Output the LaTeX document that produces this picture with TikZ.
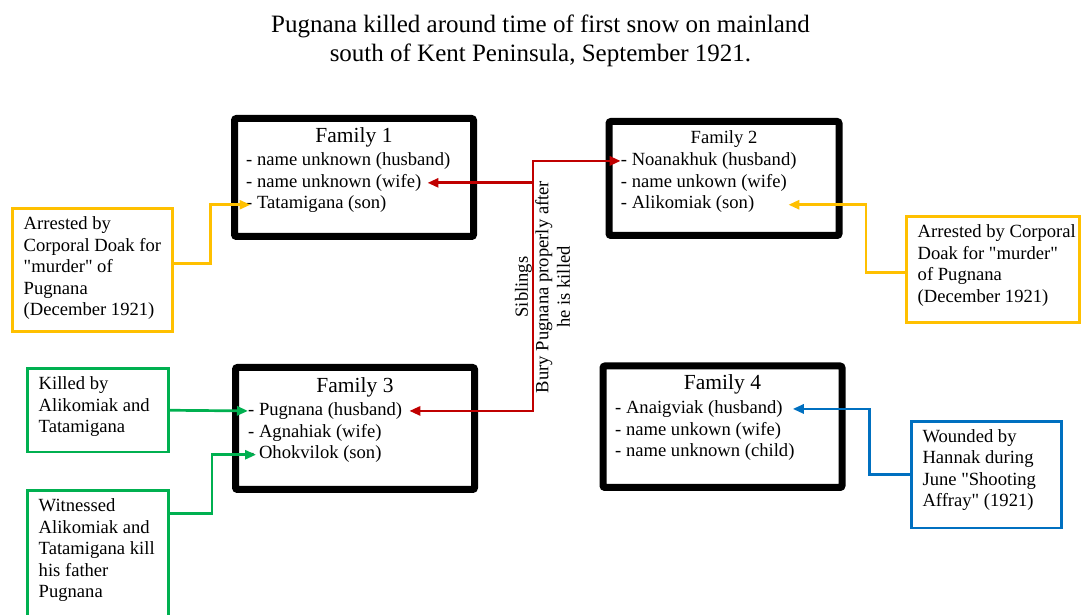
\documentclass[tikz,border=0pt]{standalone}
\usepackage{fontspec}
\setmainfont{Liberation Serif}
\usetikzlibrary{positioning,arrows.meta}

\definecolor{calorange}{HTML}{FFC000}
\definecolor{calgreen}{HTML}{00B050}
\definecolor{calblue}{HTML}{0070C0}
\definecolor{sibred}{HTML}{C00000}

\newcommand{\bodysize}{\fontsize{18.6}{21.5}\selectfont}
\newcommand{\famsize}{\fontsize{21.5}{25}\selectfont}
\newcommand{\picheadsize}{\fontsize{25}{29}\selectfont}
\newcommand{\dq}{\textquotedbl}

\begin{document}
\begin{tikzpicture}[x=1pt, y=1pt, >={Triangle[length=11pt,width=9pt]},
                famBox/.style={draw, line width=7pt, rounded corners=2pt, outer sep=0pt},
                famTitle/.style={inner sep=0pt, font=\famsize, text height=15pt, text depth=5pt},
                famLine/.style={inner sep=0pt, font=\bodysize, text height=13pt, text depth=4.5pt},
                nextLine/.style={below=4pt of #1.south west, anchor=north west},
                noteBox/.style={draw=#1, line width=2.7pt, outer sep=0pt},
                noteText/.style={inner sep=0pt, font=\bodysize, align=left, below right=8pt and 11pt of #1.north west},
                link/.style={->, line width=2.7pt, draw=#1}]
                \useasboundingbox (0,0) rectangle (1083,615);

                \node[font=\picheadsize, align=center] (title) at (540.5,574)
                    {Pugnana killed around time of first snow on mainland\\south of Kent Peninsula, September 1921.};

                % families
                \node[famBox, minimum width=239pt, minimum height=118pt] (fam1) at (354,437.5) {};
                \node[famTitle, below=9pt of fam1.north] (fam1t) {Family 1};
                \node[famLine, below right=33.5pt and 11.5pt of fam1.north west] (f1a) {- name unknown (husband)};
                \node[famLine, nextLine=f1a] (f1b) {- name unknown (wife)};
                \node[famLine, nextLine=f1b] (f1c) {- Tatamigana (son)};

                \node[famBox, minimum width=230pt, minimum height=114pt] (fam2) at (724,436.5) {};
                \node[famTitle, font=\bodysize, text height=13pt, text depth=4.5pt, below=8.5pt of fam2.north] (fam2t) {Family 2};
                \node[famLine, below right=30.5pt and 11.7pt of fam2.north west] (f2a) {- Noanakhuk (husband)};
                \node[famLine, nextLine=f2a] (f2b) {- name unkown (wife)};
                \node[famLine, nextLine=f2b] (f2c) {- Alikomiak (son)};

                \node[famBox, minimum width=239pt, minimum height=122pt] (fam3) at (355,186.5) {};
                \node[famTitle, below=9.5pt of fam3.north] (fam3t) {Family 3};
                \node[famLine, below right=34.5pt and 12.5pt of fam3.north west] (f3a) {- Pugnana (husband)};
                \node[famLine, nextLine=f3a] (f3b) {- Agnahiak (wife)};
                \node[famLine, nextLine=f3b] (f3c) {- Ohokvilok (son)};

                \node[famBox, minimum width=239pt, minimum height=121.5pt] (fam4) at (722.5,188.25) {};
                \node[famTitle, below=8pt of fam4.north] (fam4t) {Family 4};
                \node[famLine, below right=34pt and 12pt of fam4.north west] (f4a) {- Anaigviak (husband)};
                \node[famLine, nextLine=f4a] (f4b) {- name unkown (wife)};
                \node[famLine, nextLine=f4b] (f4c) {- name unknown (child)};

                % notes
                \node[noteBox=calorange, minimum width=160pt, minimum height=123pt] (arr1) at (92.5,345) {};
                \node[noteText=arr1] (arr1t) {Arrested by\\Corporal Doak for\\\dq murder\dq{} of\\Pugnana\\(December 1921)};
                \node[noteBox=calorange, minimum width=173pt, minimum height=106pt] (arr2) at (993,345.5) {};
                \node[noteText=arr2] (arr2t) {Arrested by Corporal\\Doak for \dq murder\dq\\of Pugnana\\(December 1921)};
                \node[noteBox=calgreen, minimum width=141pt, minimum height=83.5pt] (kill) at (98,204.75) {};
                \node[noteText=kill] (killt) {Killed by\\Alikomiak and\\Tatamigana};
                \node[noteBox=calgreen, minimum width=141pt, minimum height=129.4pt] (wit) at (98,59.7) {};
                \node[noteText=wit] (witt) {Witnessed\\Alikomiak and\\Tatamigana kill\\his father\\Pugnana};
                \node[noteBox=calblue, minimum width=150pt, minimum height=106.7pt] (wound) at (986.3,140.35) {};
                \node[noteText=wound] (woundt) {Wounded by\\Hannak during\\June \dq Shooting\\Affray\dq{} (1921)};

                % siblings
                \coordinate (sib) at (533,0 |- f1b.east);
                \draw[link=sibred, <->] ([xshift=7pt]f3a.east) -| (sib) |- (f2a.west);
                \draw[link=sibred] (sib) -- ([xshift=6pt]f1b.east);
                \node[rotate=90, anchor=south, font=\bodysize, inner sep=1pt] (sibl) at (533,328) {Siblings};
                \node[rotate=90, anchor=north, font=\bodysize, align=center, inner sep=2pt] (bury) at (533,328)
                    {Bury Pugnana properly after\\he is killed};

                \draw[link=calorange] ([yshift=6.7pt]arr1.east) -| (210.7,0 |- f1c.west) -- ([xshift=4.5pt]f1c.west);
                \draw[link=calorange] ([yshift=-3pt]arr2.west) -| (866,0 |- f2c.east) -- ([xshift=34pt]f2c.east);
                \draw[link=calgreen] (kill.east) -- (f3a.west);
                \draw[link=calgreen] ([yshift=-22.7pt]wit.north east) -| (212,0 |- f3c.west) -- ([xshift=8pt]f3c.west);
                \draw[link=calblue] (wound.west) -| (869.3,0 |- f4a.east) -- ([xshift=10pt]f4a.east);
            \end{tikzpicture}
\end{document}
